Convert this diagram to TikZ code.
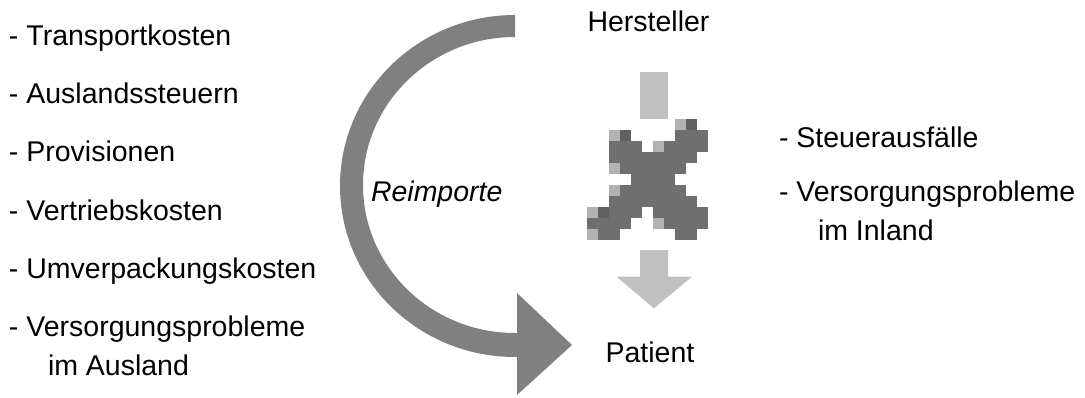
\documentclass[tikz,border=0pt]{standalone}
\usepackage{fontspec}
\setmainfont{Liberation Sans}
\definecolor{arcgray}{RGB}{128,128,128}
\definecolor{arrlight}{RGB}{192,192,192}
\definecolor{xg}{RGB}{111,111,111}
\definecolor{xd}{RGB}{96,96,96}
\definecolor{xl}{RGB}{178,178,178}
\begin{document}
\begin{tikzpicture}[x=1pt,y=1pt,
  lbl/.style={inner sep=0pt,outer sep=0pt,font=\fontsize{28.5}{33}\selectfont},
  item/.style={lbl,anchor=base west},
  title/.style={lbl,anchor=base}]
\useasboundingbox (0,0) rectangle (1085,397);
% left list
\node[item] (l1) at (9,{397-46}) {- Transportkosten};
\node[item] (l2) at (9,{397-104}) {- Auslandssteuern};
\node[item] (l3) at (9,{397-162}) {- Provisionen};
\node[item] (l4) at (9,{397-220}) {- Vertriebskosten};
\node[item] (l5) at (9,{397-278}) {- Umverpackungskosten};
\node[item] (l6) at (9,{397-336.5}) {- Versorgungsprobleme};
\node[item] (l7) at (48,{397-375}) {im Ausland};
% right list
\node[item] (r1) at (779,{397-148}) {- Steuerausfälle};
\node[item] (r2) at (779,{397-201.5}) {- Versorgungsprobleme};
\node[item] (r3) at (818,{397-240}) {im Inland};
% titles
\node[title] (hersteller) at (648.5,{397-32}) {Hersteller};
\node[title] (patient) at (650,{397-362}) {Patient};
\node[item] (reimporte) at (371,{397-201}) {\itshape Reimporte};
% curved block arrow
\fill[arcgray] (515,382) arc[start angle=90,end angle=270,x radius=175,y radius=171]
  -- (517,40) -- (517,2) -- (572,52) -- (517,104) -- (517,64) -- (515,64)
  arc[start angle=270,end angle=90,x radius=152,y radius=148] -- cycle;
% straight arrow pieces
\fill[arrlight] (640,{397-72}) rectangle (668,{397-118.7});
\fill[arrlight] (640,{397-250}) -- (668,{397-250}) -- (668,{397-276.7}) -- (692,{397-276.7})
  -- (654,{397-308.3}) -- (616.5,{397-276.7}) -- (640,{397-276.7}) -- cycle;
% pixelated X
\foreach \r/\a/\b/\c in {0/8/8/xl,0/9/9/xd,
  1/2/2/xl,1/3/3/xd,1/8/10/xg,
  2/2/4/xg,2/6/6/xl,2/7/10/xg,
  3/2/9/xg,
  4/2/2/xl,4/3/8/xg,
  5/4/7/xg,
  6/2/2/xl,6/3/8/xg,
  7/2/9/xg,
  8/0/0/xl,8/1/1/xd,8/2/4/xg,8/6/10/xg,
  9/0/3/xg,9/6/6/xl,9/7/10/xg,
  10/0/0/xl,10/1/2/xg,10/8/9/xg}
  \fill[\c] ({586.7+11*\a},{397-118.7-11*\r}) rectangle ({586.7+11*(\b+1)},{397-118.7-11*(\r+1)});
\end{tikzpicture}
\end{document}
